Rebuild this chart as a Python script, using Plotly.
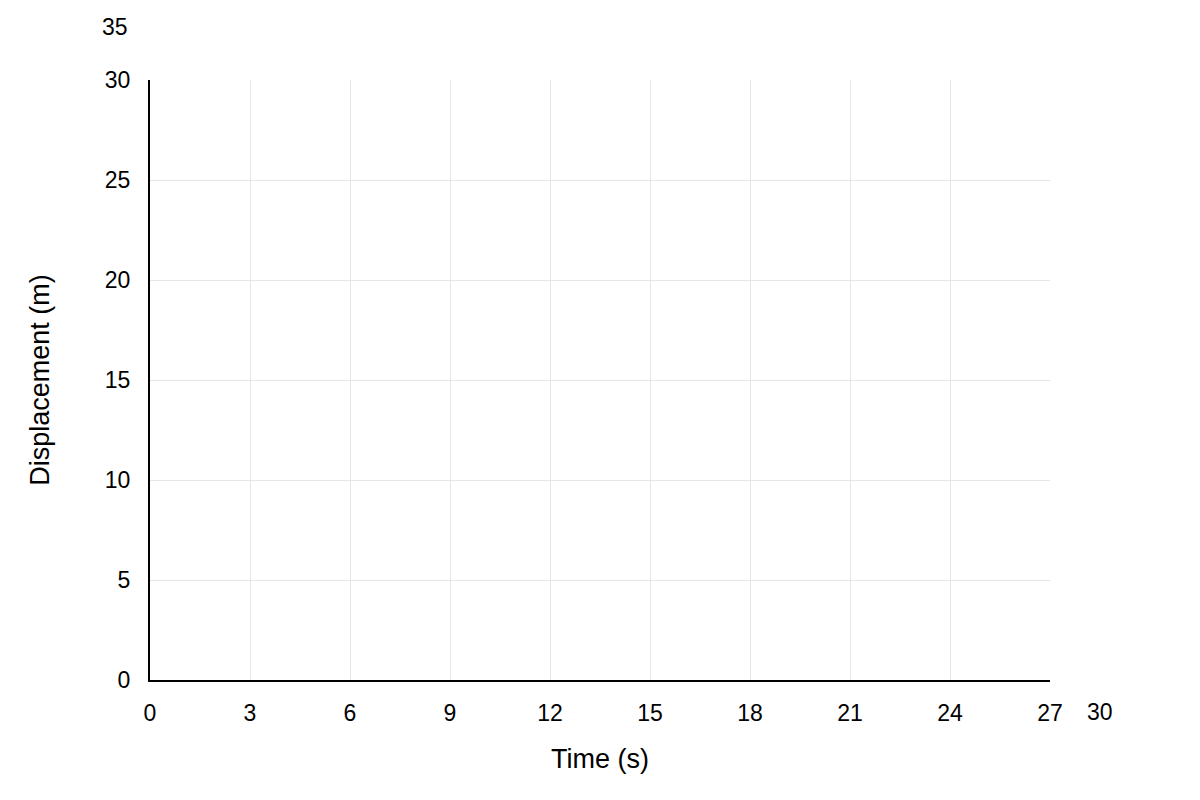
import plotly.graph_objects as go

# Data (chart is empty: no series plotted)
time_s = []
displacement_m = []

x_tick_values = [0, 3, 6, 9, 12, 15, 18, 21, 24, 27]
y_tick_values = [0, 5, 10, 15, 20, 25, 30]
x_extra_label = "30"
y_extra_label = "35"

FONT = "Liberation Sans, Arial, sans-serif"

fig = go.Figure()
fig.add_trace(go.Scatter(x=time_s, y=displacement_m, mode="lines", showlegend=False))

# page body has an 8px margin, so offsets are shifted by -8
fig.update_layout(
    width=1200, height=800,
    margin=dict(l=142, r=158, t=72, b=128),
    paper_bgcolor="white", plot_bgcolor="white",
    font=dict(family=FONT, size=23, color="#000000"),
    showlegend=False,
)
fig.update_xaxes(
    range=[0, 27], tickvals=x_tick_values, ticktext=[str(v) for v in x_tick_values],
    showline=True, linecolor="#000000", linewidth=2,
    showgrid=True, gridcolor="#e6e6e6", gridwidth=1, zeroline=False,
    ticks="", ticklabelstandoff=11,
    title=dict(text="Time (s)", font=dict(size=27), standoff=25),
)
fig.update_yaxes(
    range=[0, 30], tickvals=y_tick_values, ticktext=[str(v) for v in y_tick_values],
    showline=True, linecolor="#000000", linewidth=2,
    showgrid=True, gridcolor="#e6e6e6", gridwidth=1, zeroline=False,
    ticks="", ticklabelstandoff=13,
    title=dict(text="Displacement (m)", font=dict(size=27), standoff=47),
)

fig.add_annotation(text=x_extra_label, xref="paper", yref="paper",
                   x=(1100 - 150) / 900, y=-(712 - 680) / 600,
                   showarrow=False, font=dict(size=23), xanchor="center", yanchor="middle")
fig.add_annotation(text=y_extra_label, xref="paper", yref="paper",
                   x=-(150 - 130) / 900, y=(680 - 27) / 600,
                   showarrow=False, font=dict(size=23), xanchor="right", yanchor="middle")

fig.write_html("out.html")
